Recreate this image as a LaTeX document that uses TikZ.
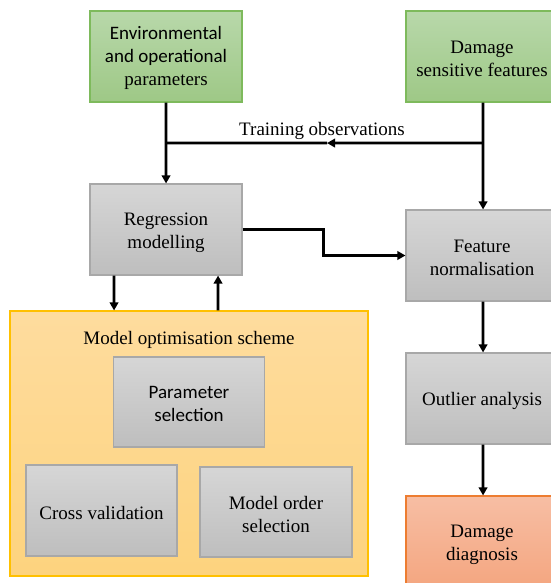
\documentclass[tikz,border=0pt]{standalone}
\usepackage{fontspec}
\setmainfont{Liberation Serif}
\newfontfamily\carlito{Carlito}
\usetikzlibrary{arrows.meta}
\definecolor{gtop}{RGB}{184,216,170}
\definecolor{gbot}{RGB}{158,200,134}
\definecolor{gline}{RGB}{126,186,92}
\definecolor{ytop}{RGB}{214,214,214}
\definecolor{ybot}{RGB}{190,190,190}
\definecolor{yline}{RGB}{168,168,168}
\definecolor{otop}{RGB}{254,220,158}
\definecolor{obot}{RGB}{253,211,126}
\definecolor{oline}{RGB}{255,192,0}
\definecolor{rtop}{RGB}{247,190,164}
\definecolor{rbot}{RGB}{244,166,128}
\definecolor{rline}{RGB}{237,125,49}
\begin{document}
\begin{tikzpicture}[x=1pt,y=-1pt,
  font=\fontsize{19}{23}\selectfont,
  boxbase/.style={rectangle,inner sep=0pt,minimum width=152pt,minimum height=91pt,line width=1.1pt},
  greenbox/.style={boxbase,draw=gline,top color=gtop,bottom color=gbot},
  graybox/.style={boxbase,draw=yline,top color=ytop,bottom color=ybot},
  redbox/.style={boxbase,draw=rline,top color=rtop,bottom color=rbot},
  txt/.style={align=center,inner sep=0pt},
  arr/.style={line width=2.8pt,-{Triangle[length=8pt,width=8.5pt]}},
  ln/.style={line width=2.8pt},
]
\useasboundingbox (0,0) rectangle (550,583);
\fill[white] (0,0) rectangle (550,583);
% orange panel
\node[rectangle,draw=oline,line width=1.1pt,top color=otop,bottom color=obot,minimum width=358pt,minimum height=265pt,inner sep=0pt] (panel) at (189,443.5) {};
\node[txt] (ptitle) at (189,339.5) {Model optimisation scheme};
% top boxes
\node[greenbox] (env) at (166,56.5) {};
\node[txt] (envt) at ([yshift=-1pt]env.center) {{\carlito Environmental}\\{\carlito and operational}\\parameters};
\node[greenbox] (dsf) at (482,56.5) {};
\node[txt] (dsft) at ([yshift=-2.5pt]dsf.center) {Damage\\sensitive features};
% process boxes
\node[graybox] (reg) at (166,229.5) {};
\node[txt] (regt) at ([yshift=-3.5pt]reg.center) {Regression\\modelling};
\node[graybox] (feat) at (482,255.5) {};
\node[txt] (featt) at ([yshift=-2.5pt]feat.center) {Feature\\normalisation};
\node[graybox] (out) at (482,398.5) {};
\node[txt] (outt) at ([yshift=-2.5pt]out.center) {Outlier analysis};
\node[redbox] (diag) at (482,541.5) {};
\node[txt] (diagt) at ([yshift=-3pt]diag.center) {Damage\\diagnosis};
% panel inner boxes
\node[graybox,minimum width=151pt,minimum height=90pt] (par) at (189,402) {};
\node[txt] (part) at ([yshift=-2pt]par.center) {{\carlito Parameter}\\{\carlito selection}};
\node[graybox,minimum width=151pt,minimum height=91pt] (cv) at (101.5,510.5) {};
\node[txt] (cvt) at ([yshift=-2pt]cv.center) {Cross validation};
\node[graybox,minimum width=152pt,minimum height=90pt] (mos) at (276,512) {};
\node[txt] (most) at ([yshift=-2pt]mos.center) {Model order\\selection};
% connectors (tiny offsets avoid degenerate stroke bounding boxes)
\coordinate (jenv) at (166,143);
\coordinate (jdsf) at (483,143);
\coordinate (mid) at (327,143.05);
\draw[arr] ([xshift=1pt]dsf.south) -- ([xshift=1.05pt]feat.north);
\draw[arr] (jdsf) -- (mid);
\draw[ln] (mid) -- (jenv);
\draw[arr] (env.south) -- ([xshift=0.05pt]reg.north);
\node[txt] (tobs) at (322,130.5) {Training observations};
\draw[arr] (reg.east) -- ++(81,0) |- (feat.west);
\draw[arr] ([xshift=-52pt]reg.south) -- ([xshift=-51.95pt]reg.south |- panel.north);
\draw[arr] ([xshift=52pt]reg.south |- panel.north) -- ([xshift=52.05pt]reg.south);
\draw[arr] ([xshift=1pt]feat.south) -- ([xshift=1.05pt]out.north);
\draw[arr] ([xshift=1pt]out.south) -- ([xshift=1.05pt]diag.north);
\end{tikzpicture}
\end{document}
